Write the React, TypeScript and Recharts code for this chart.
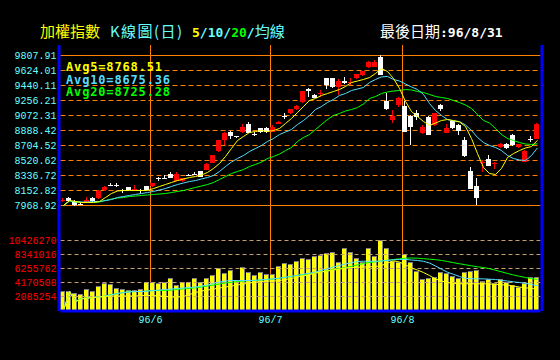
import {
  ComposedChart,
  Bar,
  Line,
  XAxis,
  YAxis,
  ReferenceLine,
  ReferenceArea,
} from "recharts";

// 加權指數 日K（96/5 ~ 96/8），數值由圖面估讀
const open = [
  8018, 8067, 8018, 7993, 8006, 8067, 8055, 8153, 8226, 8220,
  8153, 8190, 8165, 8153, 8202, 8214, 8306, 8312, 8349, 8275,
  8275, 8343, 8361, 8386, 8410, 8496, 8643, 8766, 8876, 8821,
  8864, 8974, 8846, 8913, 8925, 8876, 8968, 9066, 9097, 9146,
  9232, 9403, 9324, 9342, 9526, 9526, 9416, 9501, 9471, 9526,
  9563, 9661, 9661, 9784, 9244, 9023, 9195, 9183, 9072, 9097,
  8852, 9060, 8950, 9207, 8852, 9011, 8950, 8778, 8386, 8202,
  8490, 8533, 8478, 8680, 8717, 8839, 8680, 8508, 8784, 8790,
];
const high = [
  8055, 8070, 8042, 8006, 8079, 8079, 8153, 8214, 8239, 8239,
  8177, 8192, 8226, 8177, 8214, 8245, 8318, 8337, 8374, 8374,
  8312, 8349, 8374, 8390, 8484, 8594, 8778, 8864, 8888, 8827,
  8974, 8987, 8864, 8917, 8937, 8950, 8999, 9097, 9158, 9195,
  9370, 9406, 9330, 9391, 9538, 9538, 9514, 9550, 9526, 9587,
  9624, 9738, 9747, 9808, 9354, 9134, 9305, 9256, 9076, 9134,
  8950, 9072, 9109, 9211, 8962, 9023, 8962, 8803, 8435, 8300,
  8521, 8582, 8508, 8733, 8741, 8843, 8729, 8647, 8815, 8978,
];
const low = [
  8006, 8018, 7969, 7981, 8000, 8015, 8042, 8150, 8202, 8190,
  8128, 8141, 8153, 8116, 8150, 8202, 8275, 8288, 8310, 8272,
  8263, 8324, 8337, 8320, 8405, 8492, 8631, 8705, 8790, 8803,
  8860, 8848, 8815, 8860, 8860, 8872, 8962, 9023, 9093, 9134,
  9228, 9293, 9281, 9305, 9403, 9412, 9318, 9461, 9440, 9522,
  9559, 9657, 9657, 9559, 9142, 8974, 9183, 8872, 8705, 9011,
  8839, 8835, 8946, 9121, 8848, 8913, 8827, 8557, 8174, 7969,
  8374, 8455, 8423, 8676, 8664, 8701, 8676, 8504, 8741, 8786,
];
const close = [
  8042, 8030, 7969, 7987, 8042, 8018, 8141, 8190, 8208, 8208,
  8147, 8153, 8177, 8141, 8153, 8239, 8294, 8300, 8312, 8361,
  8300, 8331, 8349, 8324, 8472, 8582, 8766, 8852, 8827, 8809,
  8937, 8852, 8833, 8864, 8864, 8937, 8993, 9054, 9146, 9183,
  9367, 9367, 9287, 9354, 9452, 9416, 9501, 9465, 9483, 9575,
  9612, 9734, 9734, 9563, 9146, 9072, 9281, 8876, 8937, 9048,
  8937, 8839, 9097, 9158, 8925, 8925, 8888, 8570, 8177, 8067,
  8508, 8459, 8490, 8729, 8668, 8705, 8717, 8643, 8772, 8974,
];
const volume = [
  2830000, 2830000, 2490000, 2340000, 3130000, 2830000, 3570000, 3980000, 3830000, 3230000,
  3130000, 2980000, 2980000, 3130000, 4130000, 4130000, 3980000, 4170000, 4720000, 3720000,
  4130000, 4130000, 4720000, 4220000, 4720000, 5210000, 6210000, 5470000, 5960000, 4470000,
  6360000, 5620000, 5170000, 5620000, 5320000, 5320000, 6550000, 7050000, 6850000, 7340000,
  7790000, 7550000, 8090000, 8190000, 8450000, 8590000, 7100000, 9190000, 8590000, 7790000,
  7190000, 9190000, 8090000, 10430000, 9280000, 7300000, 7190000, 8300000, 7100000, 5810000,
  4620000, 4810000, 4870000, 5620000, 5470000, 5060000, 4720000, 5620000, 5810000, 5960000,
  4360000, 4620000, 4070000, 4570000, 4220000, 3720000, 3380000, 3980000, 4870000, 4870000,
];
const ma5 = [
  7969, 8030, 8018, 8006, 8006, 8006, 8018, 8067, 8116, 8147,
  8153, 8153, 8153, 8153, 8153, 8177, 8202, 8226, 8251, 8275,
  8294, 8312, 8324, 8343, 8374, 8423, 8484, 8570, 8668, 8766,
  8815, 8864, 8876, 8888, 8876, 8888, 8913, 8974, 9036, 9109,
  9183, 9256, 9281, 9318, 9342, 9367, 9391, 9428, 9477, 9495,
  9514, 9538, 9587, 9649, 9612, 9526, 9403, 9244, 9121, 9060,
  8999, 8950, 8980, 9011, 9023, 9011, 8993, 8937, 8790, 8606,
  8435, 8361, 8349, 8423, 8557, 8606, 8643, 8674, 8692, 8768.51,
];
const ma10 = [
  7969, 8024, 8018, 8012, 8012, 8018, 8018, 8030, 8042, 8067,
  8079, 8092, 8104, 8116, 8128, 8141, 8159, 8177, 8202, 8226,
  8245, 8263, 8275, 8294, 8312, 8337, 8386, 8447, 8502, 8545,
  8582, 8631, 8668, 8705, 8754, 8790, 8839, 8870, 8901, 8962,
  9011, 9072, 9146, 9183, 9232, 9269, 9318, 9342, 9379, 9397,
  9416, 9477, 9514, 9545, 9551, 9514, 9495, 9459, 9422, 9391,
  9330, 9220, 9134, 9072, 9023, 9005, 8999, 8956, 8888, 8803,
  8741, 8705, 8680, 8643, 8582, 8545, 8527, 8521, 8582, 8675.36,
];
const ma20 = [
  7969, 8024, 8012, 8006, 8006, 8006, 8012, 8030, 8049, 8061,
  8067, 8079, 8085, 8092, 8098, 8104, 8110, 8116, 8128, 8141,
  8153, 8171, 8190, 8208, 8226, 8251, 8288, 8324, 8361, 8386,
  8410, 8447, 8472, 8502, 8545, 8570, 8600, 8643, 8680, 8754,
  8803, 8839, 8901, 8962, 9023, 9072, 9097, 9128, 9146, 9170,
  9214, 9281, 9305, 9342, 9361, 9373, 9379, 9391, 9385, 9367,
  9354, 9330, 9305, 9293, 9281, 9256, 9232, 9201, 9158, 9085,
  9011, 8980, 8913, 8839, 8790, 8766, 8741, 8723, 8717, 8725.28,
];
const volMa5 = [
  0, 2830000, 1340000, 1710000, 1860000, 1940000, 2010000, 2090000, 2160000, 2160000,
  2160000, 2160000, 2160000, 2230000, 2230000, 2230000, 2160000, 2090000, 2010000, 2010000,
  2090000, 2380000, 2680000, 2900000, 3050000, 3200000, 3350000, 3500000, 3650000, 3800000,
  3950000, 4100000, 4240000, 4320000, 4390000, 4390000, 4470000, 4620000, 4770000, 4990000,
  5140000, 5360000, 5590000, 5730000, 5880000, 6030000, 6180000, 6330000, 6400000, 6450000,
  6480000, 6510000, 6550000, 6700000, 7070000, 7400000, 7220000, 6780000, 6330000, 6030000,
  5660000, 5210000, 4690000, 4390000, 4170000, 4020000, 3980000, 3980000, 3980000, 3980000,
  3980000, 3950000, 3900000, 3830000, 3800000, 3650000, 3500000, 3380000, 3280000, 3200000,
];
const volMa10 = [
  0, 2830000, 1340000, 1740000, 1860000, 1940000, 2010000, 2160000, 2340000, 2530000,
  2680000, 2760000, 2830000, 2830000, 2900000, 2980000, 3050000, 3130000, 3200000, 3280000,
  3350000, 3430000, 3500000, 3650000, 3800000, 4020000, 4250000, 4390000, 4470000, 4470000,
  4470000, 4470000, 4510000, 4570000, 4650000, 4720000, 4810000, 4960000, 5090000, 5240000,
  5410000, 5560000, 5730000, 5990000, 6230000, 6480000, 6700000, 6930000, 7120000, 7300000,
  7340000, 7340000, 7340000, 7370000, 7450000, 7550000, 7600000, 7600000, 7520000, 7450000,
  7330000, 7070000, 6630000, 6150000, 5700000, 5390000, 5060000, 4800000, 4720000, 4720000,
  4710000, 4660000, 4620000, 4470000, 4390000, 4270000, 4170000, 4070000, 3870000, 3680000,
];
const volMa20 = [
  0, 2830000, 1410000, 1790000, 1860000, 1940000, 2010000, 2160000, 2380000, 2530000,
  2680000, 2800000, 2830000, 2830000, 2900000, 2980000, 2980000, 2980000, 3050000, 3130000,
  3230000, 3280000, 3380000, 3500000, 3650000, 3800000, 3950000, 4100000, 4200000, 4320000,
  4390000, 4470000, 4470000, 4540000, 4620000, 4690000, 4810000, 4940000, 5090000, 5240000,
  5360000, 5440000, 5590000, 5760000, 5910000, 6110000, 6260000, 6400000, 6580000, 6810000,
  7000000, 7150000, 7250000, 7400000, 7490000, 7600000, 7700000, 7790000, 7820000, 7790000,
  7720000, 7640000, 7570000, 7450000, 7300000, 7120000, 6960000, 6810000, 6660000, 6510000,
  6400000, 6230000, 6000000, 5760000, 5510000, 5290000, 5090000, 4920000, 4740000, 4620000,
];

const priceTicks = [
  7968.92, 8152.82, 8336.72, 8520.62, 8704.52, 8888.42, 9072.31, 9256.21, 9440.11, 9624.01, 9807.91,
];
const volumeTicks = [2085254, 4170508, 6255762, 8341016, 10426270];
const monthLabels = ["96/6", "96/7", "96/8"];
const monthStarts = [15, 35, 57];
const lastDate = "96/8/31";

// axis ranges chosen so both panels share one plot area
const PRICE_DOMAIN: [number, number] = [6675.5, 9936.64];
const VOL_DOMAIN: [number, number] = [-74473, 39545163];

const MONO = "'Liberation Mono', 'DejaVu Sans Mono', monospace";
const MONO_B = "'DejaVu Sans Mono', 'Liberation Mono', monospace";
const CJK = "'Noto Sans CJK TC', 'Noto Sans CJK SC', sans-serif";

const ORANGE = "#ff8000";
const YELLOW = "#ffff00";
const CYAN = "#55ddff";
const GREEN = "#00ff00";
const LABEL_CYAN = "#66ffff";

function Candle(props: any) {
  const { x, y, height, payload } = props;
  if (x == null || y == null || !payload) return null;
  const top = Math.min(y, y + height);
  const h = Math.abs(height);
  const range = payload.high - payload.low || 1;
  const k = h / range;
  const bodyTop = top + (payload.high - Math.max(payload.open, payload.close)) * k;
  const bodyBot = top + (payload.high - Math.min(payload.open, payload.close)) * k;
  const color = payload.close >= payload.open ? "#ff0000" : "#ffffff";
  const left = Math.floor(x);
  const bt = Math.round(bodyTop);
  const bh = Math.max(1, Math.round(bodyBot) - bt);
  return (
    <g>
      <rect x={left + 2} y={Math.round(top)} width={1} height={Math.max(1, Math.round(h))} fill={color} />
      <rect x={left} y={bt} width={5} height={bh} fill={color} />
    </g>
  );
}

function VolBar(props: any) {
  const { x, y, height } = props;
  if (x == null || y == null) return null;
  const left = Math.floor(x);
  const top = Math.floor(Math.min(y, y + height));
  const bottom = Math.floor(Math.max(y, y + height));
  const h = bottom - top;
  if (h <= 0) return null;
  return (
    <g>
      <rect x={left} y={top} width={5} height={h} fill="#7f7f7f" />
      <rect x={left} y={top + 1} width={4} height={Math.max(0, h - 1)} fill={YELLOW} />
    </g>
  );
}

export default function App() {
  const rows = open.map((o, i) => ({
    i,
    open: o,
    high: high[i],
    low: low[i],
    close: close[i],
    volume: volume[i],
    ma5: ma5[i],
    ma10: ma10[i],
    ma20: ma20[i],
    volMa5: volMa5[i],
    volMa10: volMa10[i],
    volMa20: volMa20[i],
  }));
  const last = rows.length - 1;

  return (
    <div
      style={{
        position: "absolute",
        left: 0,
        top: 0,
        width: 560,
        height: 360,
        background: "#000",
        overflow: "hidden",
      }}
    >
      <ComposedChart
        width={560}
        height={360}
        data={rows}
        margin={{ top: 45, right: 19.5, bottom: 19, left: 0 }}
      >
        <XAxis
          xAxisId="v"
          dataKey="i"
          type="number"
          domain={[-0.5, 79.5]}
          allowDataOverflow
          ticks={monthStarts.map((s) => s - 0.5)}
          interval={0}
          tickFormatter={(v: number) => monthLabels[monthStarts.indexOf(v + 0.5)] ?? ""}
          height={30}
          tickLine={false}
          tickSize={0}
          tickMargin={5}
          axisLine={{ stroke: "#0000ff", strokeWidth: 3 }}
          tick={{ fill: LABEL_CYAN, fontSize: 10, fontFamily: MONO }}
        />
        <XAxis xAxisId="p" dataKey="i" type="number" domain={[-0.5, 79.5]} allowDataOverflow hide height={0} />
        <YAxis
          yAxisId="p"
          type="number"
          domain={PRICE_DOMAIN}
          allowDataOverflow
          ticks={priceTicks}
          interval={0}
          tickFormatter={(v: number) => v.toFixed(2)}
          width={60.5}
          axisLine={false}
          tickLine={false}
          tickSize={0}
          tickMargin={4}
          tick={{ fill: LABEL_CYAN, fontSize: 10, fontFamily: MONO }}
        />
        <YAxis yAxisId="v" type="number" domain={VOL_DOMAIN} allowDataOverflow hide width={0} />

        {priceTicks.map((v, k) => (
          <ReferenceLine
            key={"pg" + k}
            xAxisId="p"
            yAxisId="p"
            y={v}
            stroke={ORANGE}
            strokeDasharray={k === 0 || k === priceTicks.length - 1 ? undefined : "5 3"}
            zIndex={50}
          />
        ))}
        {monthStarts.map((s) => (
          <ReferenceLine key={"m" + s} xAxisId="v" yAxisId="v" x={s - 0.5} stroke={ORANGE} zIndex={50} />
        ))}

        <Bar
          xAxisId="p"
          yAxisId="p"
          dataKey={(d: any) => [d.low, d.high]}
          barSize={5}
          shape={<Candle />}
          isAnimationActive={false}
          zIndex={300}
        />
        <Bar
          xAxisId="v"
          yAxisId="v"
          dataKey="volume"
          barSize={5}
          shape={<VolBar />}
          isAnimationActive={false}
          zIndex={300}
        />

        {volumeTicks.map((v) => (
          <ReferenceLine
            key={"vg" + v}
            xAxisId="v"
            yAxisId="v"
            y={v}
            stroke="#c8a070"
            strokeDasharray="4 3"
            zIndex={350}
            label={{
              value: String(v),
              position: "left",
              offset: 4,
              fill: "#ff0000",
              fontSize: 10,
              fontFamily: MONO,
            }}
          />
        ))}

        <Line xAxisId="p" yAxisId="p" dataKey="ma20" stroke={GREEN} strokeWidth={1} dot={false} activeDot={false} isAnimationActive={false} zIndex={400} />
        <Line xAxisId="p" yAxisId="p" dataKey="ma10" stroke={CYAN} strokeWidth={1} dot={false} activeDot={false} isAnimationActive={false} zIndex={400} />
        <Line xAxisId="p" yAxisId="p" dataKey="ma5" stroke={YELLOW} strokeWidth={1} dot={false} activeDot={false} isAnimationActive={false} zIndex={400} />
        <Line xAxisId="v" yAxisId="v" dataKey="volMa20" stroke={GREEN} strokeWidth={1} dot={false} activeDot={false} isAnimationActive={false} zIndex={400} />
        <Line xAxisId="v" yAxisId="v" dataKey="volMa10" stroke={CYAN} strokeWidth={1} dot={false} activeDot={false} isAnimationActive={false} zIndex={400} />
        <Line xAxisId="v" yAxisId="v" dataKey="volMa5" stroke={YELLOW} strokeWidth={1} dot={false} activeDot={false} isAnimationActive={false} zIndex={400} />

        <ReferenceArea xAxisId="p" yAxisId="p" x1={-1} x2={-0.5} fill="#0000ff" fillOpacity={1} stroke="none" ifOverflow="visible" zIndex={600} />
        <ReferenceArea xAxisId="p" yAxisId="p" x1={79.5} x2={80} fill="#0000ff" fillOpacity={1} stroke="none" ifOverflow="visible" zIndex={600} />
      </ComposedChart>

      <svg
        width={560}
        height={360}
        style={{ position: "absolute", left: 0, top: 0, pointerEvents: "none" }}
      >
        <text x={40} y={37} fill={YELLOW} fontSize={15} fontFamily={CJK}>
          加權指數
        </text>
        <text x={110} y={37} fill={LABEL_CYAN} fontSize={15} fontFamily={CJK} textLength={72} lengthAdjust="spacing">
          K線圖(日)
        </text>
        <text x={192} y={37} fontSize={13} fontWeight="bold" fontFamily={MONO_B}>
          <tspan fill={YELLOW}>5</tspan>
          <tspan fill={LABEL_CYAN}>/10/</tspan>
          <tspan fill={GREEN}>20</tspan>
          <tspan fill={LABEL_CYAN}>/</tspan>
          <tspan fill={LABEL_CYAN} fontFamily={CJK} fontSize={15} fontWeight="normal">均線</tspan>
        </text>
        <text x={380} y={37} fill="#ffffff" fontSize={15} fontFamily={CJK}>
          最後日期
        </text>
        <text x={440} y={37} fill="#ffffff" fontSize={13} fontWeight="bold" fontFamily={MONO_B}>
          {":" + lastDate}
        </text>

        <text x={66} y={71} fill={YELLOW} fontSize={12} fontWeight="bold" fontFamily={MONO_B} textLength={96} lengthAdjust="spacing">
          {`Avg5=${ma5[last].toFixed(2)}`}
        </text>
        <text x={66} y={83.5} fill={CYAN} fontSize={12} fontWeight="bold" fontFamily={MONO_B} textLength={104} lengthAdjust="spacing">
          {`Avg10=${ma10[last].toFixed(2)}`}
        </text>
        <text x={66} y={96} fill={GREEN} fontSize={12} fontWeight="bold" fontFamily={MONO_B} textLength={104} lengthAdjust="spacing">
          {`Avg20=${ma20[last].toFixed(2)}`}
        </text>
      </svg>
    </div>
  );
}
